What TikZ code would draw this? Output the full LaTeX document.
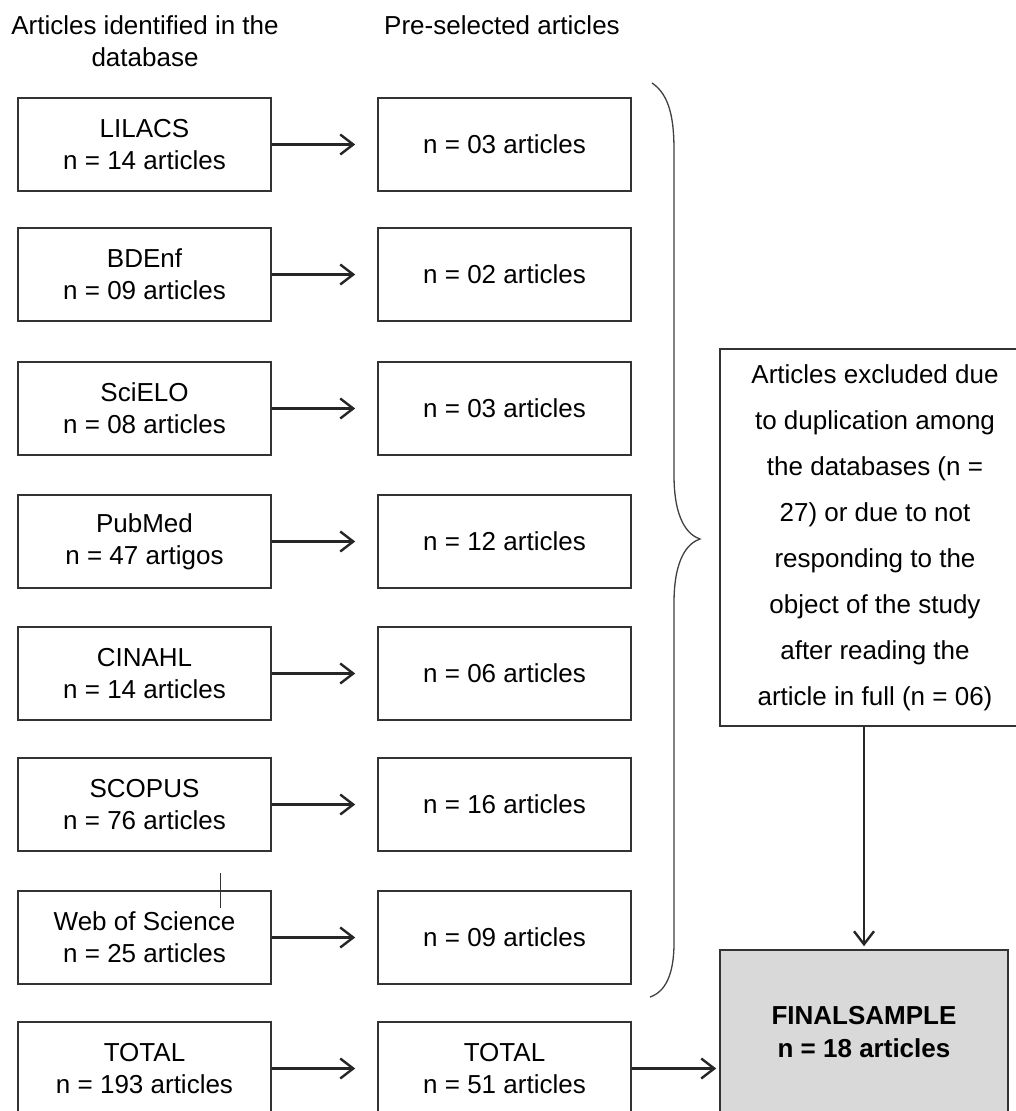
\documentclass[tikz,border=0pt]{standalone}
\usepackage{fontspec}
\setmainfont{Liberation Sans}
\usetikzlibrary{arrows.meta}
\begin{document}
\begin{tikzpicture}[x=1pt,y=-1pt,
  box/.style={draw=black!80, line width=1.6pt, minimum width=253pt, minimum height=93pt,
    align=center, inner sep=0pt, font=\fontsize{26}{32}\selectfont},
  arr/.style={line width=2.4pt, draw=black!85,
    -{Straight Barb[length=13pt,width=20pt,line width=2.4pt]}},
  bracestyle/.style={line width=1.3pt, draw=black!75},
  hdr/.style={align=center, inner sep=0pt, font=\fontsize{26}{32}\selectfont}]
\useasboundingbox (0,0) rectangle (1016,1111);
\clip (0,0) rectangle (1016,1111);
\fill[white] (0,0) rectangle (1016,1111);

% headers
\node[hdr] (h1) at (145,41) {Articles identified in the\\database};
\node[hdr] (h2) at (502,25) {Pre-selected articles};

% left column
\node[box] (l1) at (144.5,144.5) {LILACS\\n = 14 articles};
\node[box] (l2) at (144.5,274.5) {BDEnf\\n = 09 articles};
\node[box] (l3) at (144.5,408.5) {SciELO\\n = 08 articles};
\node[box] (l4) at (144.5,541.5) {PubMed\\n = 47 artigos};
\node[box] (l5) at (144.5,673.5) {CINAHL\\n = 14 articles};
\node[box] (l6) at (144.5,804.5) {SCOPUS\\n = 76 articles};
\node[box] (l7) at (144.5,937.5) {Web of Science\\n = 25 articles};
\node[box] (l8) at (144.5,1068.5) {TOTAL\\n = 193 articles};

% middle column
\node[box] (m1) at (504.5,144.5) {n = 03 articles};
\node[box] (m2) at (504.5,274.5) {n = 02 articles};
\node[box] (m3) at (504.5,408.5) {n = 03 articles};
\node[box] (m4) at (504.5,541.5) {n = 12 articles};
\node[box] (m5) at (504.5,673.5) {n = 06 articles};
\node[box] (m6) at (504.5,804.5) {n = 16 articles};
\node[box] (m7) at (504.5,937.5) {n = 09 articles};
\node[box] (m8) at (504.5,1068.5) {TOTAL\\n = 51 articles};

% right column
\node[box, minimum width=310pt, minimum height=377pt,
  font=\fontsize{26}{46}\selectfont] (ex) at (875,537.5)
  {Articles excluded due\\to duplication among\\the databases (n =\\27) or due to not\\responding to the\\object of the study\\after reading the\\article in full (n = 06)};
\node[box, fill=black!15, minimum width=288pt, minimum height=164pt,
  font=\fontsize{26}{33}\bfseries\selectfont] (fin) at (864,1032)
  {FINALSAMPLE\\n = 18 articles};

% arrows
\foreach \i in {1,...,8}{
  \draw[arr, shorten >=22pt] (l\i.east) -- (m\i.west);
}
\draw[arr, shorten >=3pt] (m8.east) -- (m8.east -| fin.west);
\draw[arr, shorten >=3pt] (ex.south -| fin.north) -- (fin.north);

% brace
\draw[bracestyle] (652,83) .. controls (670,95) and (674,120) .. (674,150)
  -- (674,475) .. controls (674,520) and (688,535) .. (700,539)
  .. controls (688,543) and (674,558) .. (674,603)
  -- (674,943) .. controls (674,975) and (665,992) .. (650,997);

% stray mark on the Web of Science box
\draw[line width=1pt, black!80] (220,873) -- (220,908);
\end{tikzpicture}
\end{document}
